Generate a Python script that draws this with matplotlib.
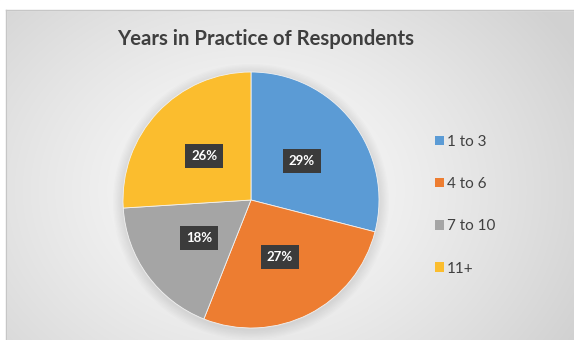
import numpy as np
import matplotlib.pyplot as plt
from matplotlib.patches import Patch, Circle, Rectangle

# Data
categories = ["1 to 3", "4 to 6", "7 to 10", "11+"]
shares = [29, 27, 18, 26]
colors = ["#5b9bd5", "#ed7d31", "#a5a5a5", "#fbbd2e"]
title = "Years in Practice of Respondents"

plt.rcParams['font.family'] = ['Lato', 'DejaVu Sans']

W, H = 574, 340
fig = plt.figure(figsize=(W / 100, H / 100), dpi=100)
fig.patch.set_facecolor('white')

# background: chart area with radial gradient, framed
bg = fig.add_axes([0, 0, 1, 1])
bg.set_xlim(0, W)
bg.set_ylim(H, 0)
bg.axis('off')
yy, xx = np.mgrid[0:H, 0:W]
d = np.sqrt(((xx - 251) / 330.0) ** 2 + ((yy - 190) / 260.0) ** 2)
shade = np.clip(0.985 - 0.14 * d ** 1.3, 0.82, 1.0)
img = np.dstack([shade, shade, shade])
bg.imshow(img, extent=[0, W, H, 0], interpolation='bilinear', zorder=0)
bg.add_patch(Rectangle((0, 0), W, 10, color='white', zorder=1))
bg.add_patch(Rectangle((0, 0), 6, H, color='white', zorder=1))
bg.plot([6, 6], [10, H], color='#c6c6c6', lw=1.0, zorder=2)
bg.plot([6, W], [10, 10], color='#c6c6c6', lw=1.0, zorder=2)

# soft shadow round the pie
cx, cy, R = 251, 200, 128
for k in range(8):
    bg.add_patch(Circle((cx, cy + 2), R + 10 - k * 1.3, color='#9a9a9a',
                        alpha=0.035, lw=0, zorder=3))

fig.text(266 / W, 1 - 39 / H, title, fontsize=14.6, fontweight='bold',
         color='#3f3f3f', ha='center', va='center')

ax = fig.add_axes([(cx - R) / W, (H - cy - R) / H, 2 * R / W, 2 * R / H])
wedges, texts, autotexts = ax.pie(
    shares, colors=colors, startangle=90, counterclock=False,
    autopct='%d%%', pctdistance=0.5, radius=1.0,
    wedgeprops=dict(edgecolor='#f2f2f2', linewidth=0.6))
ax.set_xlim(-1, 1)
ax.set_ylim(-1, 1)
ax.set_aspect('equal')
for t in autotexts:
    t.set_color('white')
    t.set_fontweight('bold')
    t.set_fontsize(9.5)
    t.set_bbox(dict(boxstyle='square,pad=0.45', facecolor='#3b3b3b',
                    edgecolor='none'))

handles = [Patch(facecolor=c, edgecolor='none') for c in colors]
fig.legend(handles, categories, loc='upper left',
           bbox_to_anchor=(421 / W, 1 - 121 / H), frameon=False,
           fontsize=11, handlelength=0.6, handleheight=0.6,
           handletextpad=0.2, labelspacing=1.85, labelcolor='#404040')

fig.savefig('out.png', dpi=100)
